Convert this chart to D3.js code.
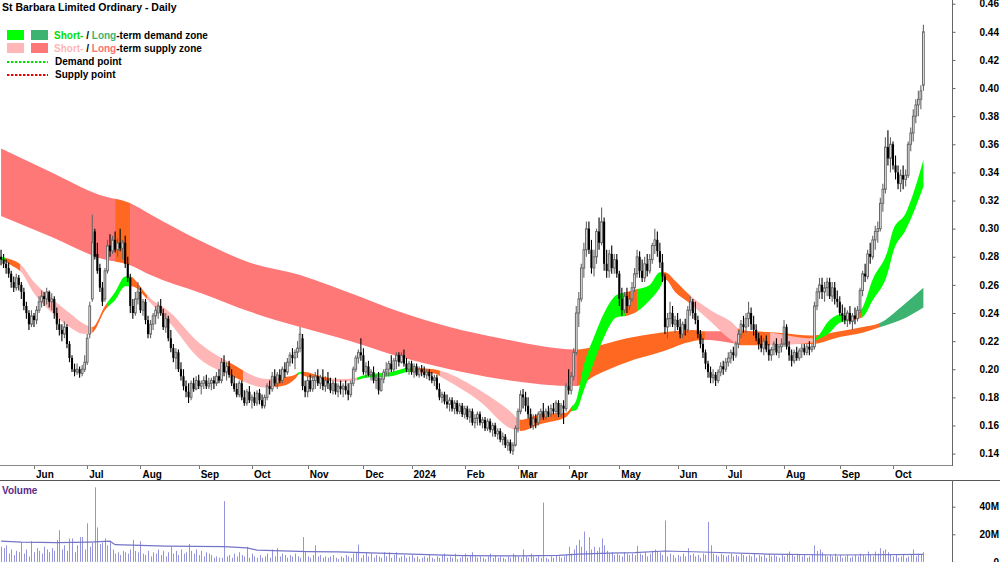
<!DOCTYPE html>
<html>
<head>
<meta charset="utf-8">
<script src="https://cdn.jsdelivr.net/npm/d3@7"></script>
<style>
body { margin: 0; background: #fff; }
text { font-family: "Liberation Sans", Arial, sans-serif; font-weight: bold; }
</style>
</head>
<body>
<svg id="chart" width="1000" height="562"></svg>
<script>
// trading days (ASX), 15 May 2023 .. 17 Oct 2024
var holidays = ["2023-06-12","2023-12-25","2023-12-26","2024-01-01","2024-01-26","2024-03-29","2024-04-01","2024-04-25","2024-06-10"];

// prices in thousandths of a dollar
var open = [
280,278,275,272,268,262,258,265,260,255, 245,240,232,238,235,242,248,252,250,255,
248,250,240,232,228,225,230,218,208,200, 198,200,197,200,205,225,250,298,282,272,
258,250,270,288,284,292,285,290,286,290, 275,265,245,240,250,255,242,248,235,225,
232,238,240,245,240,230,236,222,215,208, 212,200,195,188,184,180,190,186,192,188,
190,192,188,190,192,190,195,192,205,198, 202,196,190,186,182,190,180,176,184,178,
180,176,183,178,174,180,188,186,195,190, 196,192,200,198,205,210,208,212,215,222,
188,184,192,186,192,195,190,194,188,192, 190,185,190,184,188,186,188,185,182,190,
200,208,212,210,198,202,196,198,192,194, 185,193,198,200,204,200,206,210,205,210,
204,200,204,198,202,196,200,198,196,198, 195,192,194,186,180,182,177,175,178,172,
176,170,174,168,172,166,170,162,165,168, 162,164,158,163,157,160,154,156,150,152,
146,148,142,146,158,170,182,180,174,168, 160,165,162,168,170,166,170,168,172,170,
176,168,174,172,188,185,195,212,240,250, 272,285,300,285,272,280,298,290,305,275,
270,282,272,278,268,250,242,252,245,250, 258,268,280,270,265,275,270,278,288,292,
284,276,266,230,236,240,232,235,230,225, 232,228,242,248,240,235,225,218,212,204,
198,194,196,192,198,202,200,205,208,212, 210,218,225,232,230,236,240,232,228,222,
218,215,220,214,210,214,218,212,216,218, 230,216,210,206,212,208,213,215,212,216,
214,216,245,255,260,255,258,262,252,258, 250,248,240,238,235,240,234,238,236,242,
256,268,266,282,280,292,298,300,318,328, 358,350,360,345,340,332,338,335,338,360,
368,380,388,392,402];
var high = [
285,282,278,276,270,266,268,267,262,258, 248,242,242,240,245,252,256,255,258,256,
254,252,244,236,232,234,232,220,210,204, 204,202,203,210,225,248,310,300,290,275,
262,272,292,296,295,298,293,300,292,295, 280,268,250,255,262,258,250,250,238,235,
240,245,248,250,243,240,238,228,218,215, 214,205,200,192,190,192,194,195,196,192,
195,196,194,194,195,198,200,208,210,205, 206,200,195,190,192,192,185,186,188,182,
184,185,186,182,182,190,192,198,200,198, 200,202,205,208,212,215,214,220,230,225,
192,195,196,195,198,200,196,200,195,198, 194,192,194,190,192,190,192,190,192,202,
210,214,222,215,205,206,200,202,196,198, 195,200,205,206,210,208,212,212,212,214,
208,206,206,204,204,202,203,202,200,200, 198,196,196,190,184,184,182,180,180,178,
178,176,176,174,174,172,172,168,170,170, 166,166,165,165,162,162,158,158,155,154,
150,150,148,160,172,185,186,184,180,172, 168,168,170,172,176,172,174,175,176,178,
178,176,178,190,200,198,215,245,255,275, 290,305,305,292,285,300,308,315,308,285,
285,288,282,282,270,258,255,258,255,262, 272,285,284,278,280,282,282,290,300,298,
290,282,268,240,248,245,238,240,236,234, 236,245,252,250,248,238,228,222,214,206,
202,200,198,200,205,206,208,212,214,216, 220,228,235,238,240,248,244,238,232,226,
224,222,224,218,216,220,222,218,222,235, 232,220,214,214,216,215,218,218,218,220,
218,248,258,265,265,262,265,265,262,262, 256,252,246,244,242,245,240,244,245,258,
270,275,285,290,295,302,305,322,332,365, 370,365,362,352,345,342,345,342,362,372,
385,392,398,402,445];
var low = [
274,272,268,265,258,255,256,256,250,242, 236,228,230,230,232,240,244,245,246,244,
242,236,228,224,220,222,215,205,198,195, 196,194,195,198,203,222,248,278,268,255,
245,248,268,280,282,283,280,284,278,272, 262,240,236,238,246,240,238,232,222,222,
228,232,236,238,228,226,220,212,205,200, 198,192,185,180,176,178,184,185,186,182,
186,186,186,185,186,188,190,190,195,192, 194,188,184,180,180,178,174,174,176,172,
174,174,175,172,172,178,182,184,188,186, 190,190,194,196,202,204,200,208,212,185,
180,180,184,184,186,188,186,185,184,186, 183,182,182,180,182,180,182,178,180,188,
198,204,206,196,194,195,192,190,186,182, 184,190,195,195,198,198,200,202,204,202,
198,196,196,194,195,194,195,194,193,192, 190,188,185,178,176,175,172,170,170,168,
168,168,166,165,164,162,160,158,160,160, 158,156,156,155,152,152,150,148,146,144,
142,140,139,145,155,168,172,170,165,158, 157,158,160,164,164,164,166,166,168,168,
166,166,161,170,182,182,192,210,230,248, 265,280,282,268,266,275,285,288,270,265,
265,268,268,265,245,238,240,240,242,248, 255,265,265,262,262,266,268,275,282,280,
272,262,225,222,230,230,226,228,222,222, 224,226,238,236,232,222,215,208,200,194,
190,190,188,190,195,196,198,202,204,206, 208,215,222,226,226,230,228,224,220,214,
212,210,212,206,206,210,210,208,212,216, 214,206,202,204,206,206,208,210,210,210,
212,214,242,250,250,248,252,250,248,246, 244,238,234,232,230,232,228,232,234,240,
252,262,264,275,278,285,290,298,312,325, 345,340,342,335,328,326,328,330,336,355,
362,375,380,385,398];
var close = [
278,275,272,268,262,258,265,260,255,245, 240,232,238,235,242,248,252,250,255,248,
250,240,232,228,225,230,218,208,200,198, 200,197,200,205,222,245,290,280,270,258,
248,270,288,284,292,285,290,286,290,275, 265,245,240,250,255,242,248,235,225,232,
238,242,245,240,230,236,222,215,208,212, 200,195,188,184,180,190,186,192,188,190,
192,188,190,192,190,195,192,205,198,202, 196,190,186,182,190,180,176,184,178,180,
176,183,178,174,180,188,186,195,190,196, 192,200,198,205,210,208,212,215,225,188,
184,192,186,192,195,190,194,188,192,190, 185,190,184,188,186,188,185,182,190,200,
208,212,210,198,202,196,198,192,194,185, 193,198,200,204,200,206,210,205,210,204,
200,204,198,202,196,200,198,196,198,195, 192,194,186,180,182,177,175,178,172,176,
170,174,168,172,166,170,162,165,168,162, 164,158,163,157,160,154,156,150,152,146,
148,142,146,158,170,182,180,174,168,160, 165,162,168,170,166,170,168,172,170,176,
168,174,172,188,185,195,212,240,250,272, 285,300,285,272,280,298,290,305,275,270,
282,272,278,268,250,242,252,245,250,258, 268,280,270,265,275,270,278,288,292,284,
276,266,230,236,240,232,235,230,225,232, 228,242,248,240,235,225,218,212,204,198,
194,196,192,198,202,200,205,208,212,210, 218,225,232,230,236,240,232,228,222,218,
215,220,214,210,214,218,212,216,218,230, 216,210,206,212,208,213,215,212,216,214,
216,245,255,260,255,258,262,252,258,250, 248,240,238,235,240,234,238,236,242,256,
268,266,282,280,292,298,300,318,328,358, 350,360,345,340,332,338,335,338,360,368,
380,388,392,398,440];

// volume, millions of shares
var volume = [
11,10,12,6,9,5,8,7,14,6, 9,4,15,7,10,8,6,11,9,7,
10,8,16,23,9,12,8,17,17,7, 12,18,18,9,28,11,14,54,25,13,
14,17,12,15,9,6,7,5,8,7, 6,9,16,8,7,15,6,5,8,4,
7,6,9,5,8,4,7,11,6,8, 5,9,6,7,13,8,6,9,5,8,
4,7,6,5,3,4,3,3,44,4, 5,3,6,4,7,5,4,11,3,6,
4,3,5,3,4,6,3,9,4,10, 4,6,5,3,5,4,6,4,3,18,
7,4,3,5,12,4,5,3,4,3, 4,5,3,2,4,3,5,4,3,6,
7,12.5,3,5,7,4,6,3,5,4, 3,7,4,7,3,5,7,3,4,5,
3,4,5,3,4,2,3,4,3,5, 3,2,4,3,5,6,3,4,3,6,
2,3,4,6,3,5,7,4,3,4, 3,2,4,6,3,5,3,4,3,2,
4,3,6,5,4,3,9,4,3,6, 4,3,5,3,43,3,2,4,3,5,
4,3,4,5,11,6,9,12,16,11, 22,8,18,9,11,8,10.6,17,12,8,
6,7,5,6,5,4,7,6,5,6, 5,11.6,6,5,7,4,6,8,9,8,
7,5,30,4,6,5,3,5,4,6, 4,10,5,6,4,5,3,6,5,29,
12,6,5,4,6,5,4,5,6,4, 5,4,6,5,4,5,4,6,3,5,
4,5,3,6,4,5,4,3,5,4, 6,7.5,5,4,6,5,4,5,3,4,
5,12,8,9,7,5,4,5,4,6, 4,5,3,4,5,3,4,5,4,6,
5,4,7.5,5,4,7.5,6,10,8,9, 7,5,4,5,3,4,5,3,4,5,
9,4,6,5,7];
var volAvgIdx = [0,8,22,35,43,45,65,88,97,101,121,133,149,165,182,205,220,228,240,250,262,280,302,330,364];
var volAvg = [15.1,14.4,13.9,14.4,15,12.5,11.5,11,10.2,8.5,7.5,7.2,6.3,5.5,4.6,4.3,4.8,5.6,6.3,6.7,7.9,7,5.7,5,5.5];

// short-term zone edges (candle index, thousandths)
var stIdx = [0,4,8,13,19,27,33,36,41,45,49,51,54,57,67,78,90,105,111,116,118,120,126,134,140,144,154,161,171,175,189,201,205,213,223,225,227,230,234,238,243,247,251,256,260,262,266,271,280,288,292,304,320,321,327,331,336,340,344,350,352,357,360,364];
var stHi = [280,278,274,262,252,240,232,230,245,255,266,266,261,254,240,219,205,193,194,196,198,198,195,193,194,196,198,201,200,198,185,170,164,168,169,173,178,203,223,240,253,255,257,260,269,269,263,254,242,234,228,226,222,222,235,239,238,244,264,285,299,311,325,349];
var stLo = [278,274,269,254,242,230,225,226,242,249,259,259,257,251,232,208,196,187,188,193,197,195,193,191,192,194,195,198,197,193,177,158,156,161,166,170,171,185,205,223,237,238,241,249,258,264,255,248,234,221,217,217,219,220,226,233,235,237,249,269,283,299,311,330];
var stCut = [0,1.5,7.5,36,41.8,51.3,57.6,89.6,95.5,108,117.2,119.2,129.8,140.5,162.2,173.2,204.8,225.3,246.2,251,261.6,271.9,290.8,303.5,320.4,334.2,339.8,364];
var stKind = ["sd","in","ss","in","sd","in","ss","in","ss","in","sd","in","ss","sd","in","ss","in","sd","in","sd","in","ss","in","ss","sd","in","sd"];

// long-term zone edges
var ltIdx = [0,20,39,51,59,79,98,118,138,157,177,197,227,234,247,260,273,278,284,292,307,320,331,340,347,355,364];
var ltHi = [357,340,324,318,310,291,276,267,254,241,230,222,214,216,222,226,228,227,227,227,226,224,227,230,233,244,258];
var ltLo = [309,294,279,274,267,254,241,230,220,209,200,193,188,195,205,212,220,221,220,218,218,218,223,226,230,235,244];
var ltCut = [0,45,51,227.3,277.8,290.8,346.9,364];
var ltKind = ["ls","in","ls","in","ls","in","ld"];

var zoneColor = {sd: "#00FF00", ld: "#3CB371", ss: "#FFB6B6", ls: "#FF7878", in: "#FF6820"};

var fmtDay = d3.timeFormat("%Y-%m-%d");
var dates = d3.timeDay.range(new Date(2023, 4, 15), new Date(2024, 9, 18))
  .filter(function(d){ return d.getDay() % 6 !== 0 && holidays.indexOf(fmtDay(d)) < 0; });
var N = close.length;

var svg = d3.select("#chart");
var defs = svg.append("defs");

var x = d3.scaleLinear().domain([0, N - 1]).range([1.06, 923.4]);
var y = d3.scaleLinear().domain([0.14, 0.46]).range([453.6, 3.7]);
var yv = d3.scaleLinear().domain([0, 40]).range([561.9, 506.7]);

// zones
function drawZone(name, idx, hi, lo, cuts, kinds) {
  var pts = idx.map(function(d, k){ return {i: d, hi: hi[k], lo: lo[k]}; });
  var area = d3.area()
    .x(function(d){ return x(d.i); })
    .y0(function(d){ return y(d.lo / 1000); })
    .y1(function(d){ return y(d.hi / 1000); })
    .curve(d3.curveMonotoneX);
  var g = svg.append("g");
  kinds.forEach(function(kind, k){
    var x0 = k === 0 ? 0 : x(cuts[k]);
    var x1 = x(cuts[k + 1]) + (k === kinds.length - 1 ? 2 : 0.4);
    defs.append("clipPath").attr("id", name + k)
      .append("rect").attr("x", x0).attr("y", 0).attr("width", x1 - x0).attr("height", 465);
    g.append("path").datum(pts)
      .attr("d", area)
      .attr("fill", zoneColor[kind])
      .attr("clip-path", "url(#" + name + k + ")");
  });
}
drawZone("lt", ltIdx, ltHi, ltLo, ltCut, ltKind);
drawZone("st", stIdx, stHi, stLo, stCut, stKind);

// candles
var up = function(i){ return close[i] >= open[i]; };
var candles = svg.append("g").selectAll("g").data(d3.range(N)).enter().append("g");
candles.append("line")
  .attr("x1", function(i){ return x(i); }).attr("x2", function(i){ return x(i); })
  .attr("y1", function(i){ return y(high[i] / 1000); })
  .attr("y2", function(i){ return y(low[i] / 1000); })
  .attr("stroke", function(i){ return up(i) ? "#666" : "#000"; })
  .attr("stroke-width", 1.1);
candles.append("rect")
  .attr("x", function(i){ return x(i) - (up(i) ? 0.85 : 1.05); })
  .attr("width", function(i){ return up(i) ? 1.7 : 2.1; })
  .attr("y", function(i){ return y(Math.max(open[i], close[i]) / 1000); })
  .attr("height", function(i){ return Math.max(1, Math.abs(y(open[i] / 1000) - y(close[i] / 1000))); })
  .attr("fill", function(i){ return up(i) ? "#fff" : "#000"; })
  .attr("stroke", function(i){ return up(i) ? "#666" : "none"; })
  .attr("stroke-width", 1);

// frame lines
svg.append("line").attr("x1", 0).attr("x2", 952).attr("y1", 465.5).attr("y2", 465.5).attr("stroke", "#8a8a8a");
svg.append("line").attr("x1", 0).attr("x2", 1000).attr("y1", 480.5).attr("y2", 480.5).attr("stroke", "#555");
svg.append("line").attr("x1", 952.5).attr("x2", 952.5).attr("y1", 0).attr("y2", 466).attr("stroke", "#666");
svg.append("line").attr("x1", 952.5).attr("x2", 952.5).attr("y1", 480).attr("y2", 562).attr("stroke", "#666");

// price axis
var axP = svg.append("g").attr("transform", "translate(952.5,0)")
  .call(d3.axisRight(y)
    .tickValues(d3.range(14, 47, 2).map(function(v){ return v / 100; }))
    .tickFormat(d3.format(".2f"))
    .tickSize(3));
axP.select(".domain").remove();
axP.selectAll(".tick line").attr("stroke", "#666");
axP.selectAll(".tick text").attr("x", 46.5).attr("text-anchor", "end")
  .attr("font-size", 10).attr("font-family", null).attr("fill", "#000");

// volume axis
var axV = svg.append("g").attr("transform", "translate(952.5,0)")
  .call(d3.axisRight(yv).tickValues([0, 20, 40])
    .tickFormat(function(v){ return v === 0 ? "0" : v + "M"; })
    .tickSize(3));
axV.select(".domain").remove();
axV.selectAll(".tick line").attr("stroke", "#666");
axV.selectAll(".tick text").attr("x", 46.5).attr("text-anchor", "end")
  .attr("font-size", 10).attr("font-family", null).attr("fill", "#000");

// month axis
var monthStarts = d3.range(1, N).filter(function(i){ return dates[i].getMonth() !== dates[i - 1].getMonth(); });
var months = svg.append("g").selectAll("g").data(monthStarts).enter().append("g");
months.append("line")
  .attr("x1", function(i){ return Math.round(x(i)) + 0.5; })
  .attr("x2", function(i){ return Math.round(x(i)) + 0.5; })
  .attr("y1", 466).attr("y2", 469).attr("stroke", "#777");
months.append("text")
  .attr("x", function(i){ return x(i) + 2; }).attr("y", 477.5)
  .attr("font-size", 10)
  .text(function(i){ return dates[i].getMonth() === 0 ? d3.timeFormat("%Y")(dates[i]) : d3.timeFormat("%b")(dates[i]); });

// volume bars + average
svg.append("g").selectAll("line").data(d3.range(N)).enter().append("line")
  .attr("x1", function(i){ return Math.round(x(i)) + 0.5; })
  .attr("x2", function(i){ return Math.round(x(i)) + 0.5; })
  .attr("y1", yv(0))
  .attr("y2", function(i){ return yv(volume[i]); })
  .attr("stroke", "#9494dc").attr("stroke-width", 1);
svg.append("path")
  .datum(volAvgIdx.map(function(d, k){ return [d, volAvg[k]]; }))
  .attr("d", d3.line().x(function(d){ return x(d[0]); }).y(function(d){ return yv(d[1]); }))
  .attr("fill", "none").attr("stroke", "#7474c8").attr("stroke-width", 1.2);
svg.append("text").attr("x", 2).attr("y", 494).attr("font-size", 10).attr("fill", "#5b2a8c").text("Volume");

// title and legend
svg.append("text").attr("x", 2).attr("y", 11).attr("font-size", 10.5).text("St Barbara Limited Ordinary - Daily");
var legend = svg.append("g");
legend.append("rect").attr("x", 7).attr("y", 30).attr("width", 17).attr("height", 10).attr("fill", zoneColor.sd);
legend.append("rect").attr("x", 31).attr("y", 30).attr("width", 17).attr("height", 10).attr("fill", zoneColor.ld);
legend.append("rect").attr("x", 7).attr("y", 43).attr("width", 17).attr("height", 10).attr("fill", zoneColor.ss);
legend.append("rect").attr("x", 31).attr("y", 43).attr("width", 17).attr("height", 10).attr("fill", zoneColor.ls);
legend.append("line").attr("x1", 7).attr("x2", 48).attr("y1", 62).attr("y2", 62)
  .attr("stroke", "#00dd00").attr("stroke-width", 2).attr("stroke-dasharray", "2.4,1.6");
legend.append("line").attr("x1", 7).attr("x2", 48).attr("y1", 75).attr("y2", 75)
  .attr("stroke", "#ee0000").attr("stroke-width", 2).attr("stroke-dasharray", "2.4,1.6");
var t1 = legend.append("text").attr("x", 54).attr("y", 39).attr("font-size", 10);
t1.append("tspan").attr("fill", "#00e000").text("Short-");
t1.append("tspan").text(" / ");
t1.append("tspan").attr("fill", "#3CB371").text("Long");
t1.append("tspan").text("-term demand zone");
var t2 = legend.append("text").attr("x", 54).attr("y", 52).attr("font-size", 10);
t2.append("tspan").attr("fill", "#FFB6B6").text("Short-");
t2.append("tspan").text(" / ");
t2.append("tspan").attr("fill", "#FF7070").text("Long");
t2.append("tspan").text("-term supply zone");
legend.append("text").attr("x", 55).attr("y", 65).attr("font-size", 10).text("Demand point");
legend.append("text").attr("x", 55).attr("y", 78).attr("font-size", 10).text("Supply point");
</script>
</body>
</html>
